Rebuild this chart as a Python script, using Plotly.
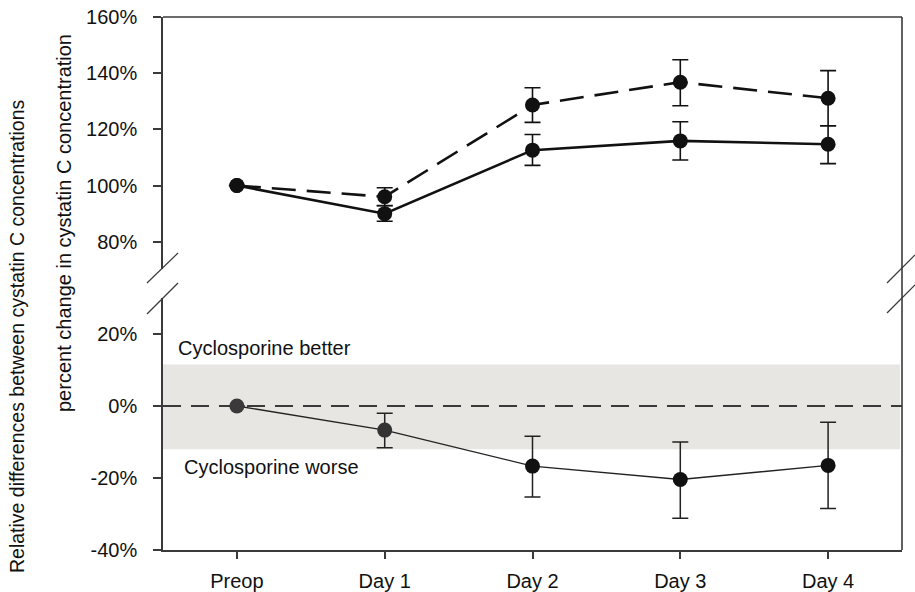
import plotly.graph_objects as go

# ---------------- data ----------------
categories = ["Preop", "Day 1", "Day 2", "Day 3", "Day 4"]

# top panel: percent change in cystatin C concentration
dashed_vals = [100, 96.0, 128.7, 136.8, 131.1]
dashed_err_plus = [0, 3.2, 6.1, 8.0, 9.8]
dashed_err_minus = [0, 3.2, 6.2, 8.4, 9.8]

solid_vals = [100, 90.0, 112.6, 115.9, 114.7]
solid_err_plus = [0, 2.9, 5.6, 6.8, 6.6]
solid_err_minus = [0, 2.7, 5.4, 6.8, 6.9]

# bottom panel: relative differences
diff_vals = [0, -6.7, -16.7, -20.4, -16.5]
diff_err_plus = [0, 4.7, 8.3, 10.4, 12.0]
diff_err_minus = [0, 4.9, 8.6, 10.8, 12.0]

band_low, band_high = -12.0, 11.5

top_ticks = [80, 100, 120, 140, 160]
top_ticktext = ["80%", "100%", "120%", "140%", "160%"]
bot_ticks = [-40, -20, 0, 20]
bot_ticktext = ["-40%", "-20%", "0%", "20%"]

# ---------------- layout geometry ----------------
W, H = 915, 592
L, R, T, B = 163, 902, 17, 550  # screen positions of plot area
PW, PH = R - L, B - T


def px(x):
    return (x - L) / PW


def py(y):
    return (B - y) / PH


FONT = "Arial, Liberation Sans, sans-serif"
AX = "#3a3a3a"
FS = 20
idx = list(range(len(categories)))

fig = go.Figure()

# bottom panel
fig.add_trace(go.Scatter(
    x=idx, y=diff_vals, mode="lines+markers",
    line=dict(color="#222222", width=1.4),
    marker=dict(size=15, color=["#3a3a3a", "#333333", "#111111", "#111111", "#111111"]),
    error_y=dict(type="data", symmetric=False, array=diff_err_plus,
                 arrayminus=diff_err_minus, color="#222222", thickness=1.5, width=8),
    xaxis="x", yaxis="y", hoverinfo="skip", showlegend=False,
))

# top panel: solid
fig.add_trace(go.Scatter(
    x=idx, y=solid_vals, mode="lines+markers",
    line=dict(color="#111111", width=2.6),
    marker=dict(size=15, color="#111111"),
    error_y=dict(type="data", symmetric=False, array=solid_err_plus,
                 arrayminus=solid_err_minus, color="#111111", thickness=1.6, width=8),
    xaxis="x2", yaxis="y2", hoverinfo="skip", showlegend=False,
))
# top panel: dashed
fig.add_trace(go.Scatter(
    x=idx, y=dashed_vals, mode="lines+markers",
    line=dict(color="#111111", width=2.6, dash="24px,11px"),
    marker=dict(size=15, color="#111111"),
    error_y=dict(type="data", symmetric=False, array=dashed_err_plus,
                 arrayminus=dashed_err_minus, color="#111111", thickness=1.6, width=8),
    xaxis="x2", yaxis="y2", hoverinfo="skip", showlegend=False,
))

shapes = []
# shaded band and zero line
shapes.append(dict(type="rect", xref="paper", yref="y", x0=0, x1=px(900),
                   y0=band_low, y1=band_high, fillcolor="#e7e6e3",
                   line=dict(width=0), layer="below"))
shapes.append(dict(type="line", xref="paper", yref="y", x0=0, x1=1, y0=0, y1=0,
                   line=dict(color="#3a3a3a", width=2, dash="18px,10px"), layer="below"))
# frame: top and right lines
shapes.append(dict(type="line", xref="paper", yref="paper", x0=0, x1=1, y0=1, y1=1,
                   line=dict(color=AX, width=1.6)))
shapes.append(dict(type="line", xref="paper", yref="paper", x0=1, x1=1, y0=0, y1=1,
                   line=dict(color=AX, width=1.6)))
# break marks
for (x0, y0, x1, y1) in [(147, 283, 178, 253), (147, 314, 178, 283),
                         (887, 283, 915, 255), (887, 313, 915, 285)]:
    shapes.append(dict(type="line", xref="paper", yref="paper",
                       x0=px(x0), y0=py(y0), x1=px(x1), y1=py(y1),
                       line=dict(color=AX, width=1.2)))

annotations = [
    dict(text="Cyclosporine better", xref="paper", yref="paper", x=px(176), y=py(348),
         xanchor="left", yanchor="middle", showarrow=False,
         font=dict(family=FONT, size=FS, color="#111111")),
    dict(text="Cyclosporine worse", xref="paper", yref="paper", x=px(182), y=py(467),
         xanchor="left", yanchor="middle", showarrow=False,
         font=dict(family=FONT, size=FS, color="#111111")),
    dict(text="Relative differences between cystatin C concentrations", xref="paper",
         yref="paper", x=px(17), y=py(336), textangle=-90, showarrow=False,
         xanchor="center", yanchor="middle",
         font=dict(family=FONT, size=19.5, color="#111111")),
    dict(text="percent change in cystatin C concentration", xref="paper",
         yref="paper", x=px(64), y=py(223), textangle=-90, showarrow=False,
         xanchor="center", yanchor="middle",
         font=dict(family=FONT, size=FS, color="#111111")),
]

axis_font = dict(family=FONT, size=FS, color="#111111")

fig.update_layout(
    width=W, height=H,
    margin=dict(l=L, r=W - R, t=T, b=H - B, autoexpand=False),
    paper_bgcolor="white", plot_bgcolor="white",
    showlegend=False,
    hovermode=False,
    xaxis=dict(domain=[0, 1], range=[-0.5, 4.5], tickvals=idx, ticktext=categories,
               showline=True, linecolor=AX, linewidth=1.6, ticks="outside",
               ticklen=7, tickwidth=1.5, tickcolor=AX, showgrid=False, zeroline=False,
               tickfont=axis_font, ticklabelstandoff=5, anchor="y", automargin=False,
               ticklabeloverflow="allow"),
    yaxis=dict(domain=[0, py(298)], range=[-40, 30], tickvals=bot_ticks,
               ticktext=bot_ticktext, showline=True, linecolor=AX, linewidth=1.6,
               ticks="outside", ticklen=8, tickwidth=1.5, tickcolor=AX,
               showgrid=False, zeroline=False, tickfont=axis_font,
               ticklabelstandoff=12, anchor="x", automargin=False,
               ticklabeloverflow="allow"),
    xaxis2=dict(domain=[0, 1], range=[-0.5, 4.5], matches="x", visible=False,
                anchor="y2", automargin=False),
    yaxis2=dict(domain=[py(269), 1], range=[70.3, 160], tickvals=top_ticks,
                ticktext=top_ticktext, showline=True, linecolor=AX, linewidth=1.6,
                ticks="outside", ticklen=8, tickwidth=1.5, tickcolor=AX,
                showgrid=False, zeroline=False, tickfont=axis_font,
                ticklabelstandoff=12, anchor="x2", automargin=False,
                ticklabeloverflow="allow"),
    shapes=shapes,
    annotations=annotations,
)

fig.write_html("out.html", config={"displayModeBar": False},
               post_script="document.body.style.margin='0';")
